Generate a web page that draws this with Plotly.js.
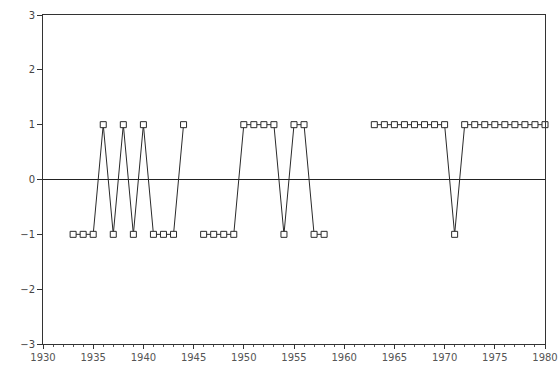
<!DOCTYPE html>
<html>
<head>
<meta charset="utf-8">
<script src="https://cdn.plot.ly/plotly-3.0.1.min.js"></script>
<style>html,body{margin:0;padding:0;background:#fff;}#chart{width:559px;height:369px;}</style>
</head>
<body>
<div id="chart"></div>
<script>
var years = [1933,1934,1935,1936,1937,1938,1939,1940,1941,1942,1943,1944,1945,
             1946,1947,1948,1949,1950,1951,1952,1953,1954,1955,1956,1957,1958,
             1959,1960,1961,1962,
             1963,1964,1965,1966,1967,1968,1969,1970,1971,
             1972,1973,1974,1975,1976,1977,1978,1979,1980];
var values = [-1,-1,-1,1,-1,1,-1,1,-1,-1,-1,1,null,
              -1,-1,-1,-1,1,1,1,1,-1,1,1,-1,-1,
              null,null,null,null,
              1,1,1,1,1,1,1,1,-1,
              1,1,1,1,1,1,1,1,1];
var xTickVals = [1930,1935,1940,1945,1950,1955,1960,1965,1970,1975,1980];
var yTickVals = [-3,-2,-1,0,1,2,3];
var yTickText = ['\u22123','\u22122','\u22121','0','1','2','3'];

var trace = {
  x: years, y: values, type: 'scatter', mode: 'lines+markers',
  connectgaps: false,
  line: {color: '#2a2a2a', width: 1},
  marker: {symbol: 'square', size: 6, color: '#ffffff', line: {color: '#2a2a2a', width: 1}},
  cliponaxis: false,
  hoverinfo: 'none'
};

var layout = {
  width: 559, height: 369,
  margin: {l: 43, r: 14, t: 15, b: 25},
  paper_bgcolor: '#ffffff', plot_bgcolor: '#ffffff',
  showlegend: false,
  font: {family: 'DejaVu Sans, sans-serif', size: 10, color: '#444'},
  xaxis: {
    range: [1930, 1980], tickvals: xTickVals, ticktext: xTickVals.map(String),
    showgrid: false, zeroline: false,
    showline: true, linecolor: '#333', linewidth: 1, mirror: true,
    ticks: 'outside', ticklen: 4, tickcolor: '#333',
    minor: {dtick: 1, ticks: 'outside', ticklen: 2, tickcolor: '#555', showgrid: false},
    tickfont: {size: 10, color: '#555'}
  },
  yaxis: {
    range: [-3, 3], tickvals: yTickVals, ticktext: yTickText,
    showgrid: false, zeroline: true, zerolinecolor: '#222', zerolinewidth: 1,
    showline: true, linecolor: '#333', linewidth: 1, mirror: true,
    ticks: 'outside', ticklen: 5, tickcolor: '#333',
    tickfont: {size: 10, color: '#444'}
  }
};

Plotly.newPlot('chart', [trace], layout, {staticPlot: true, displayModeBar: false});
</script>
</body>
</html>
